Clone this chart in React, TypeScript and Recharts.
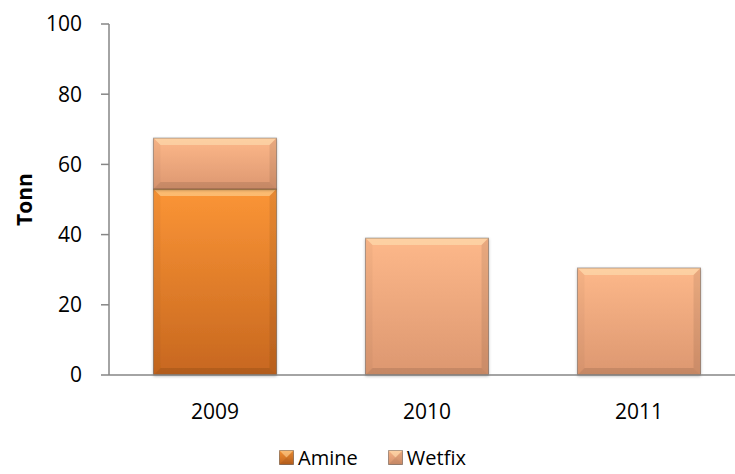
import React from "react"
import { BarChart, Bar, XAxis, YAxis, Legend } from "recharts"

// chart values
const years = ["2009", "2010", "2011"]
const amine = [53, 0, 0]
const wetfix = [14.5, 39, 30.5]
const yTicks = [0, 20, 40, 60, 80, 100]

const data = years.map((year, i) => ({ year, amine: amine[i], wetfix: wetfix[i] }))

const FONT = "'Open Sans', 'Liberation Sans', sans-serif"

const SERIES = [
  { key: "amine", name: "Amine", grad: "gradAmine", top: "#fb9536", bottom: "#c7671f" },
  { key: "wetfix", name: "Wetfix", grad: "gradWetfix", top: "#fdb88a", bottom: "#dc9770" },
]

// bar with an Excel style bevel
const BevelBar = (props: any) => {
  const { x, y, width: w, height: h, fill } = props
  if (!h || h <= 0) return null
  const b = Math.min(7, h / 2, w / 2)
  return (
    <g filter="url(#barShadow)">
      <rect x={x} y={y} width={w} height={h} fill={fill} />
      <polygon points={`${x},${y} ${x + w},${y} ${x + w - b},${y + b} ${x + b},${y + b}`} fill="#fff6c8" fillOpacity={0.4} />
      <polygon points={`${x},${y} ${x + b},${y + b} ${x + b},${y + h - b} ${x},${y + h}`} fill="#000" fillOpacity={0.03} />
      <polygon points={`${x + w},${y} ${x + w - b},${y + b} ${x + w - b},${y + h - b} ${x + w},${y + h}`} fill="#000" fillOpacity={0.08} />
      <polygon points={`${x},${y + h} ${x + b},${y + h - b} ${x + w - b},${y + h - b} ${x + w},${y + h}`} fill="#000" fillOpacity={0.1} />
      <rect x={x} y={y} width={w} height={h} fill="none" stroke="#000" strokeOpacity={0.28} strokeWidth={1} />
    </g>
  )
}

const LegendContent = () => (
  <div style={{ display: "flex", justifyContent: "center", alignItems: "center", gap: 30, height: 34, fontFamily: FONT, fontSize: 20, color: "#000" }}>
    {SERIES.map((s) => (
      <div key={s.key} style={{ display: "flex", alignItems: "center", gap: 4 }}>
        <svg width={15} height={15}>
          <BevelBar x={0.5} y={0.5} width={14} height={14} fill={`url(#${s.grad}Icon)`} />
        </svg>
        <span>{s.name}</span>
      </div>
    ))}
  </div>
)

export default function App() {
  return (
    <div style={{ position: "absolute", left: 0, top: 0, width: 735, height: 474, overflow: "hidden", background: "#fff" }}>
      <svg width={0} height={0} style={{ position: "absolute" }}>
        <defs>
          {SERIES.map((s) => (
            <linearGradient key={s.key} id={`${s.grad}Icon`} x1="0" y1="0" x2="0" y2="1">
              <stop offset="0%" stopColor={s.top} />
              <stop offset="100%" stopColor={s.bottom} />
            </linearGradient>
          ))}
        </defs>
      </svg>
      <BarChart
        width={750}
        height={474}
        data={data}
        margin={{ top: 24, right: 5, bottom: 0, left: 0 }}
        barCategoryGap="21%"
      >
        <defs>
          {SERIES.map((s) => (
            <linearGradient key={s.key} id={s.grad} x1="0" y1="0" x2="0" y2="1">
              <stop offset="0%" stopColor={s.top} />
              <stop offset="100%" stopColor={s.bottom} />
            </linearGradient>
          ))}
          <filter id="barShadow" x="-10%" y="-10%" width="120%" height="120%">
            <feDropShadow dx="0" dy="1" stdDeviation="1.5" floodColor="#000" floodOpacity={0.3} />
          </filter>
        </defs>
        <XAxis
          dataKey="year"
          height={65}
          tickLine={false}
          axisLine={{ stroke: "#868686", strokeWidth: 1.5 }}
          tick={{ fontFamily: FONT, fontSize: 21, fill: "#000" }}
          tickMargin={23}
        />
        <YAxis
          width={109}
          domain={[0, 100]}
          ticks={yTicks}
          interval={0}
          tickSize={8}
          tickMargin={19}
          axisLine={{ stroke: "#868686", strokeWidth: 1.5 }}
          tickLine={{ stroke: "#868686", strokeWidth: 1.5 }}
          tick={{ fontFamily: FONT, fontSize: 21, fill: "#000" }}
          label={({ viewBox }: any) => {
            const cy = viewBox.y + viewBox.height / 2
            return (
              <text x={24} y={cy} transform={`rotate(-90 24 ${cy})`} textAnchor="middle" dominantBaseline="central"
                fontFamily={FONT} fontSize={21} fontWeight="bold" fill="#000">
                Tonn
              </text>
            )
          }}
        />
        <Legend verticalAlign="bottom" content={<LegendContent />} wrapperStyle={{ height: 34 }} />
        {SERIES.map((s) => (
          <Bar key={s.key} dataKey={s.key} name={s.name} stackId="a" fill={`url(#${s.grad})`} shape={<BevelBar />} isAnimationActive={false} />
        ))}
      </BarChart>
    </div>
  )
}
